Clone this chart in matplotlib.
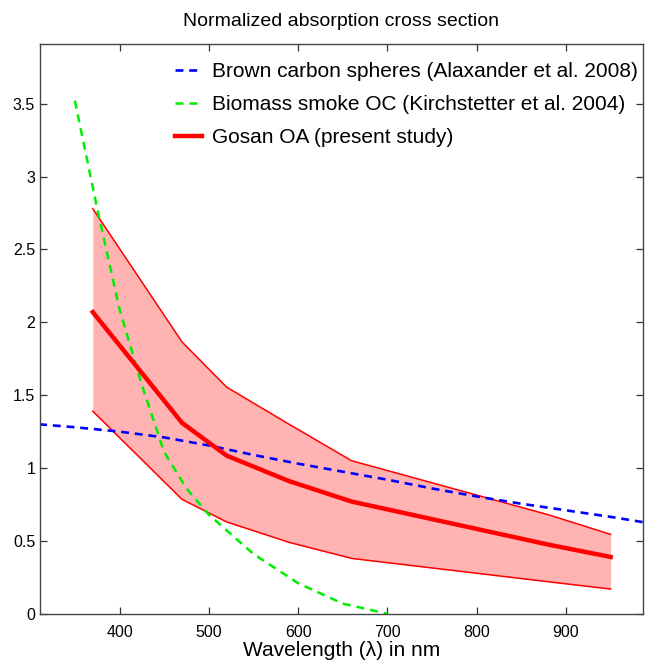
import numpy as np
import matplotlib
matplotlib.use("Agg")
import matplotlib.pyplot as plt
from matplotlib.ticker import FuncFormatter

plt.rcParams['font.family'] = ['Liberation Sans', 'DejaVu Sans']

# Brown carbon spheres (Alexander et al. 2008)
bc_wl = [310, 350, 400, 450, 500, 550, 600, 650, 700, 750, 800, 850, 900, 950, 990]
bc_val = [1.30, 1.28, 1.25, 1.21, 1.155, 1.09, 1.03, 0.975, 0.92, 0.86, 0.805, 0.755, 0.71, 0.665, 0.625]

# Biomass smoke OC (Kirchstetter et al. 2004)
bs_wl = [350, 375, 400, 425, 450, 475, 500, 550, 600, 650, 700]
bs_val = [3.52, 2.78, 2.09, 1.57, 1.11, 0.86, 0.68, 0.41, 0.21, 0.07, 0.0]

# Gosan OA (aethalometer wavelengths)
gos_wl = [370, 470, 520, 590, 660, 880, 950]
gos_mean = [2.07, 1.31, 1.085, 0.91, 0.77, 0.475, 0.39]
gos_hi = [2.78, 1.865, 1.555, 1.30, 1.05, 0.68, 0.545]
gos_lo = [1.39, 0.785, 0.63, 0.49, 0.38, 0.22, 0.17]

fig = plt.figure(figsize=(6.46, 6.65), dpi=100)
ax = fig.add_axes([0.062, 0.077, 0.933, 0.857])

ax.fill_between(gos_wl, gos_lo, gos_hi, color='#ffb3b3', lw=0)
ax.plot(gos_wl, gos_hi, color='red', lw=1.1)
ax.plot(gos_wl, gos_lo, color='red', lw=1.1)

ax.plot(bc_wl, bc_val, color='blue', lw=1.9, dashes=(3, 2.2),
        label='Brown carbon spheres (Alaxander et al. 2008)')
ax.plot(bs_wl, bs_val, color='#00ee00', lw=1.8, dashes=(3.2, 2.4),
        label='Biomass smoke OC (Kirchstetter et al. 2004)')
ax.plot(gos_wl, gos_mean, color='red', lw=3.2,
        label='Gosan OA (present study)')

ax.set_xlim(311, 986)
ax.set_ylim(0, 3.91)
ax.set_xticks([400, 500, 600, 700, 800, 900])
ax.set_yticks([0, 0.5, 1, 1.5, 2, 2.5, 3, 3.5])
ax.yaxis.set_major_formatter(FuncFormatter(lambda v, p: '%g' % v))

ax.tick_params(direction='in', length=5, width=0.9, top=True, right=True,
               labelsize=11.5, colors='#333333', labelcolor='black')
ax.tick_params(axis='x', pad=8)
for s in ax.spines.values():
    s.set_color('#444444')
    s.set_linewidth(1.0)

ax.set_title('Normalized absorption cross section', fontsize=14, pad=13)
ax.set_xlabel('Wavelength (\u03bb) in nm', fontsize=15, labelpad=1)

ax.legend(loc='upper right', bbox_to_anchor=(1.012, 0.99), frameon=False,
          fontsize=15, handlelength=1.3, handletextpad=0.45, labelspacing=0.68,
          borderaxespad=0.2)

fig.savefig('out.png', dpi=100)
